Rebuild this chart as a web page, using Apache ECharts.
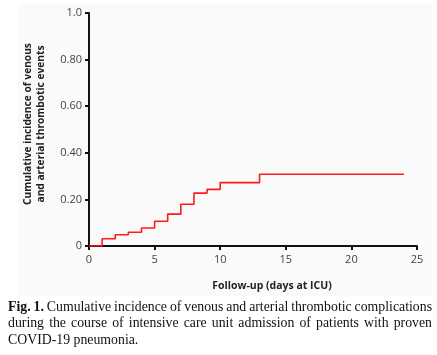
<!DOCTYPE html>
<html><head><meta charset="utf-8">
<script src="https://cdn.jsdelivr.net/npm/echarts@6/dist/echarts.min.js"></script>
<style>html,body{margin:0;padding:0;background:#fff}#c{width:437px;height:355px}</style>
</head><body><div id="c"></div>
<script>
var days = [0, 1, 2, 3, 4, 5, 6, 7, 8, 9, 10, 13, 24];
var incidence = [0, 0.031, 0.048, 0.059, 0.077, 0.106, 0.137, 0.179, 0.227, 0.243, 0.272, 0.308, 0.308];
var yTickLabels = {"0": "0", "0.2": "0.20", "0.4": "0.40", "0.6": "0.60", "0.8": "0.80", "1": "1.0"};
var yTitle = ["Cumulative incidence of venous", "and arterial thrombotic events"];
var xTitle = "Follow-up (days at ICU)";
var captionLines = [
  "Fig. 1. Cumulative incidence of venous and arterial thrombotic complications",
  "during the course of intensive care unit admission of patients with proven",
  "COVID-19 pneumonia."
];

var chart = echarts.init(document.getElementById('c'));
var capFont = '13.8px "Liberation Serif"';
var capFontBold = 'bold 13.8px "Liberation Serif"';
var mctx = document.createElement('canvas').getContext('2d');
function mw(t, bold) { mctx.font = bold ? capFontBold : capFont; return mctx.measureText(t).width; }

var graphics = [];
graphics.push({type:'rect', left: 18, top: 4, shape:{width: 414, height: 292}, style:{fill:'#fafafa'}, z:-10, silent:true});
graphics.push({type:'text', x: 28, y: 124, rotation: Math.PI/2, style:{text: yTitle[0], font:'bold 10.2px "Open Sans"', fill:'#222', textAlign:'center', textVerticalAlign:'middle'}});
graphics.push({type:'text', x: 41, y: 124, rotation: Math.PI/2, style:{text: yTitle[1], font:'bold 10.2px "Open Sans"', fill:'#222', textAlign:'center', textVerticalAlign:'middle'}});
graphics.push({type:'text', x: 272, y: 286, style:{text: xTitle, font:'bold 10.5px "Open Sans"', fill:'#222', textAlign:'center', textVerticalAlign:'middle'}});

var lineY = [307, 323, 340];
captionLines.forEach(function(line, li) {
  var words = line.split(' ');
  var bolds = words.map(function(w, i){ return li === 0 && i < 2; });
  var widths = words.map(function(w, i){ return mw(w, bolds[i]); });
  var total = widths.reduce(function(a,b){return a+b;}, 0);
  var justify = li < captionLines.length - 1;
  var gap = justify ? (424 - total) / (words.length - 1) : mw(' ', false);
  var x = 8;
  words.forEach(function(w, i) {
    graphics.push({type:'text', x: x, y: lineY[li], style:{text: w, font: bolds[i] ? capFontBold : capFont, fill:'#111', textAlign:'left', textVerticalAlign:'middle'}});
    x += widths[i] + gap;
  });
});

chart.setOption({
  animation: false,
  backgroundColor: '#ffffff',
  grid: {left: 89, right: 20, top: 13, bottom: 109},
  xAxis: {
    type: 'value', min: 0, max: 25, interval: 5,
    axisLine: {lineStyle: {color: '#111', width: 2}},
    axisTick: {show: true, length: 4, lineStyle: {color: '#111', width: 2}},
    axisLabel: {color: '#444', fontSize: 11, fontFamily: 'Open Sans', margin: 8},
    splitLine: {show: false}
  },
  yAxis: {
    type: 'value', min: 0, max: 1, interval: 0.2,
    axisLine: {show: true, lineStyle: {color: '#111', width: 2}},
    axisTick: {show: true, length: 4, lineStyle: {color: '#111', width: 2}},
    axisLabel: {color: '#444', fontSize: 11, fontFamily: 'Open Sans', margin: 7,
      formatter: function(v){ var k = String(Math.round(v*10)/10); return yTickLabels[k] !== undefined ? yTickLabels[k] : v; }},
    splitLine: {show: false}
  },
  series: [{
    type: 'line', step: 'end', showSymbol: false, symbol: 'none',
    data: days.map(function(d, i){ return [d, incidence[i]]; }),
    lineStyle: {color: '#ff1a1a', width: 1.6}
  }],
  graphic: graphics
});
</script>
</body></html>
